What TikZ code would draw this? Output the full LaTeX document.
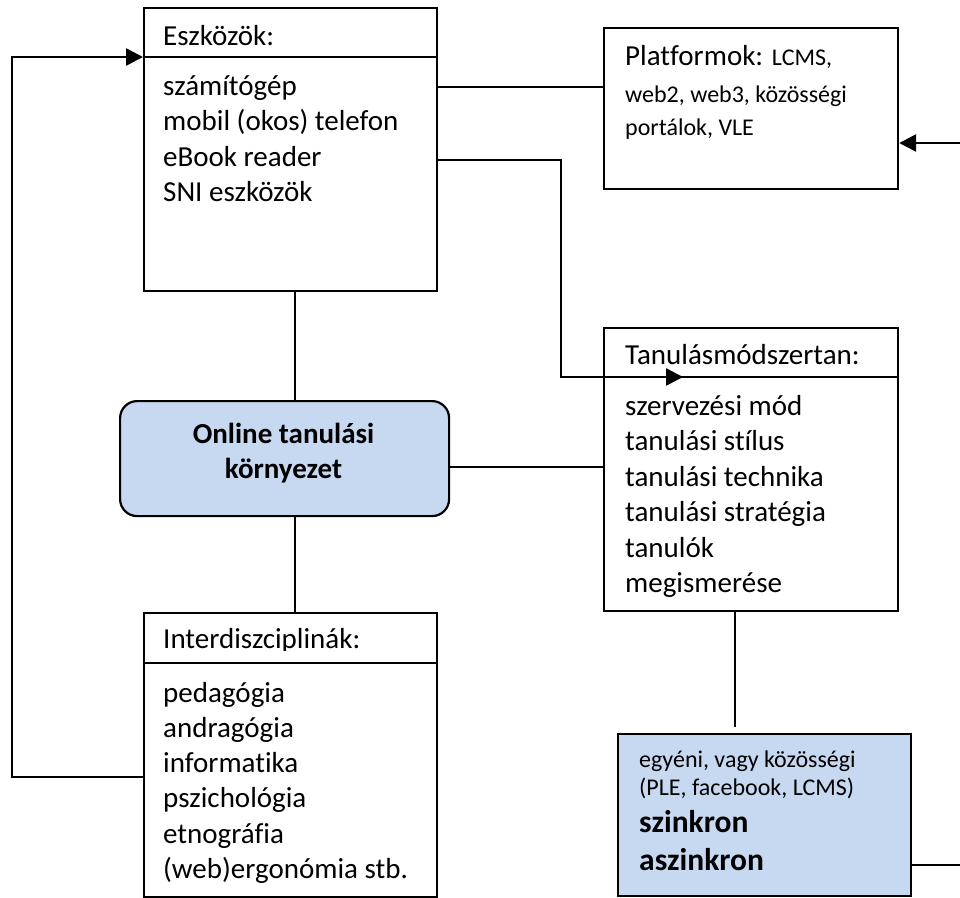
\documentclass[tikz,border=0pt]{standalone}
\usepackage{fontspec}
\setmainfont{Carlito}[Ligatures={NoCommon,NoRequired,NoContextual}]
\usetikzlibrary{arrows.meta}
\definecolor{paleblue}{HTML}{C6D9F1}
\newcommand\szMain{\fontsize{29}{35.5}\selectfont}
\newcommand\szSmall{\fontsize{24}{29}\selectfont}
\newcommand\szBold{\fontsize{31.5}{38}\selectfont\bfseries}
\begin{document}
\begin{tikzpicture}[x=1pt,y=-1pt,
  box/.style={draw=black, line width=2.2pt, rectangle, inner sep=0pt, anchor=north west},
  bluebox/.style={box, fill=paleblue},
  item/.style={anchor=base west, inner sep=0pt, font=\szMain},
  smallitem/.style={anchor=base west, inner sep=0pt, font=\szSmall},
  boldtitle/.style={anchor=base, inner sep=0pt, font=\szMain\bfseries},
  thinline/.style={draw=black, line width=1.6pt},
  arrowline/.style={draw=black, line width=2.6pt,
    -{Triangle[length=17pt,width=17pt]}},
  divider/.style={draw=black, line width=2.2pt}
]
\useasboundingbox (0,0) rectangle (960,897);

% ---- Eszközök box
\node[box, minimum width=293pt, minimum height=283pt] (esz) at (143,7) {};
\coordinate (eszHW) at (143,57);
\coordinate (eszHE) at (436,57);
\draw[divider] (eszHW) -- (eszHE);
\node[item] (eszT) at (163,45) {Eszközök:};
\foreach \t [count=\i] in {számítógép, mobil (okos) telefon, eBook reader, SNI eszközök}
  \node[item] (esz-\i) at (163,{95+35.5*(\i-1)}) {\t};

% ---- Platformok box
\node[box, minimum width=294pt, minimum height=161pt] (plat) at (603,27) {};
\node[item] (platT) at (625,65) {Platformok: {\szSmall LCMS,}};
\node[smallitem] (plat-1) at (625,102) {web2, web3, közösségi};
\node[smallitem] (plat-2) at (625,135) {portálok, VLE};

% ---- Tanulásmódszertan box
\node[box, minimum width=294pt, minimum height=283pt] (tan) at (603,327) {};
\coordinate (tanHW) at (603,377);
\coordinate (tanHE) at (897,377);
\draw[divider] (tanHW) -- (tanHE);
\node[item] (tanT) at (625,364) {Tanulásmódszertan:};
\foreach \t [count=\i] in {szervezési mód, tanulási stílus, tanulási technika,
    tanulási stratégia, tanulók, megismerése}
  \node[item] (tan-\i) at (625,{415+35.5*(\i-1)}) {\t};

% ---- central rounded box
\node[bluebox, rounded corners=17pt, minimum width=329pt, minimum height=115pt]
  (online) at (119,400) {};
\node[boldtitle] (online-1) at (283.5,443) {Online tanulási};
\node[boldtitle] (online-2) at (283.5,478) {környezet};

% ---- Interdiszciplinák box
\node[box, minimum width=293pt, minimum height=284pt] (inter) at (143,612) {};
\coordinate (intHW) at (143,663);
\coordinate (intHE) at (436,663);
\draw[divider] (intHW) -- (intHE);
\begin{scope}
  \clip (143,612) rectangle (436,650);
  \node[item] (intT) at (163,648) {Interdiszciplinák:};
\end{scope}
\foreach \t [count=\i] in {pedagógia, andragógia, informatika, pszichológia,
    etnográfia, (web)ergonómia stb.}
  \node[item] (int-\i) at (163,{702+35.3*(\i-1)}) {\t};

% ---- learning-form box
\node[bluebox, minimum width=293pt, minimum height=162pt] (form) at (617,733) {};
\node[smallitem] (form-1) at (639,767) {egyéni, vagy közösségi};
\node[smallitem] (form-2) at (639,795) {(PLE, facebook, LCMS)};
\node[anchor=base west, inner sep=0pt, font=\szBold] (form-3) at (639,832) {szinkron};
\node[anchor=base west, inner sep=0pt, font=\szBold] (form-4) at (639,870) {aszinkron};

% ---- helper coordinates for connector routes
\coordinate (colA) at (295,0);
\coordinate (colB) at (735,0);
\coordinate (rowPlat) at (0,87);
\coordinate (rowEbook) at (0,160);
\coordinate (rowOnline) at (0,467);
\coordinate (rowInter) at (0,777);
\coordinate (rowRight) at (0,143);
\coordinate (rowForm) at (0,865);
\coordinate (railL) at (12,0);
\coordinate (railM) at (561,0);
\coordinate (tanTip) at (683,377);
\coordinate (gapEnd) at (735,727);
\coordinate (edgeTop) at (960,143);
\coordinate (edgeBot) at (960,865);

% ---- plain connectors
\draw[thinline] (esz.south -| colA) -- (online.north -| colA);
\draw[thinline] (online.south -| colA) -- (inter.north -| colA);
\draw[thinline] (esz.east |- rowPlat) -- (plat.west |- rowPlat);
\draw[thinline] (online.east |- rowOnline) -- (tan.west |- rowOnline);
\draw[thinline] (tan.south -| colB) -- (gapEnd);
\draw[thinline] (form.east |- rowForm) -- (edgeBot);

% ---- arrow connectors
\draw[arrowline] (inter.west |- rowInter) -| (railL |- eszHW) -- (eszHW);
\draw[arrowline] (esz.east |- rowEbook) -| (railM |- tanTip) -- (tanTip);
\draw[arrowline] (edgeTop) -- (plat.east |- rowRight);
\end{tikzpicture}
\end{document}
